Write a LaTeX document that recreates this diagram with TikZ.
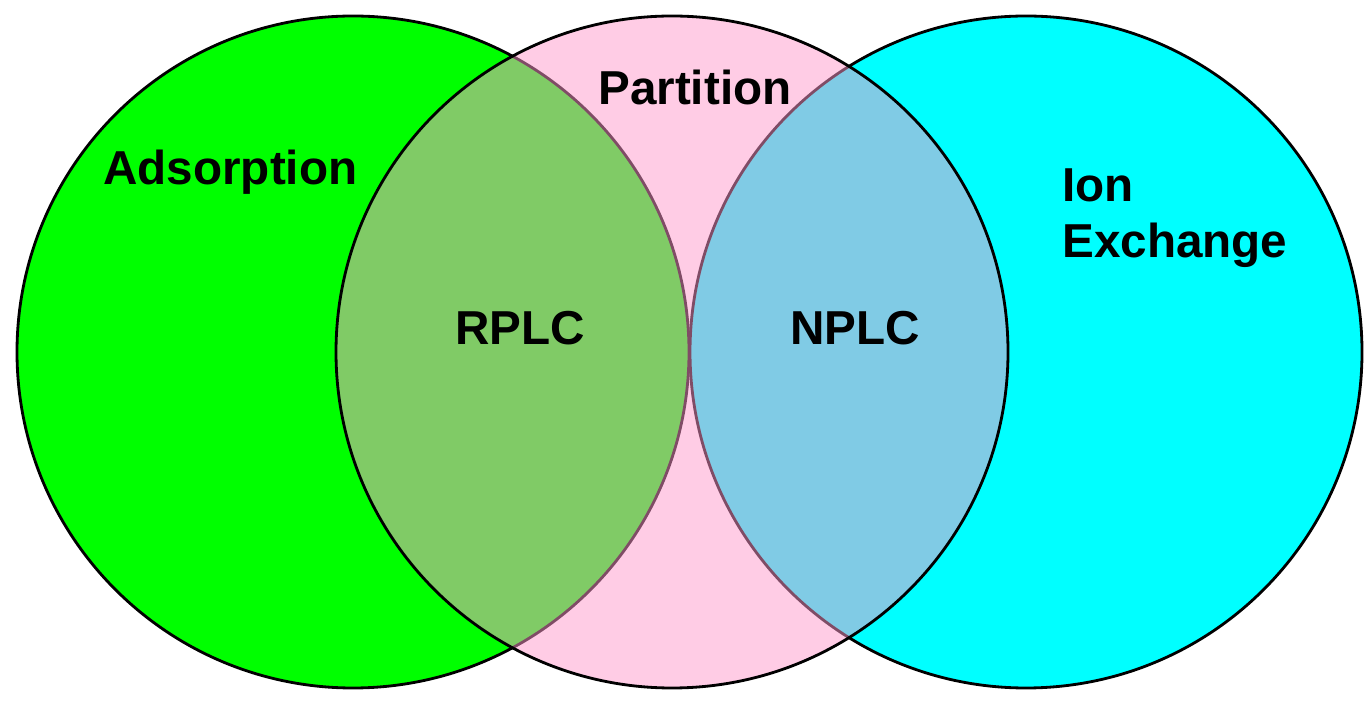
\documentclass[tikz,border=0pt]{standalone}
\usepackage{fontspec}
\setmainfont{Liberation Sans}
\definecolor{adsgreen}{RGB}{0,255,0}
\definecolor{ioncyan}{RGB}{0,255,255}
\definecolor{partpink}{RGB}{255,153,204}
\tikzset{
	ring/.style={draw=black, line width=1.6pt},
	lbl/.style={anchor=base west, inner sep=0pt, font=\fontsize{27.1}{32}\selectfont\bfseries}
}
\begin{document}
\begin{tikzpicture}
	\useasboundingbox (0,0) rectangle (27.4,14);
	\draw [ring, fill=adsgreen] (7.06,6.96) circle (6.72);
	\draw [ring, fill=ioncyan] (20.52,6.96) circle (6.72);
	% the partition circle lies over both, half see-through
	\draw [ring, fill=partpink, fill opacity=0.5] (13.44,6.96) circle (6.72);
	\node [lbl] (ads) at (2.06,10.3) {Adsorption};
	\node [lbl] (part) at (11.96,11.9) {Partition};
	\node [lbl] (rplc) at (9.1,7.1) {RPLC};
	\node [lbl] (nplc) at (15.8,7.1) {NPLC};
	\node [lbl] (ion) at (21.24,9.96) {Ion};
	\node [lbl] (exch) at (21.24,8.84) {Exchange};
\end{tikzpicture}
\end{document}
